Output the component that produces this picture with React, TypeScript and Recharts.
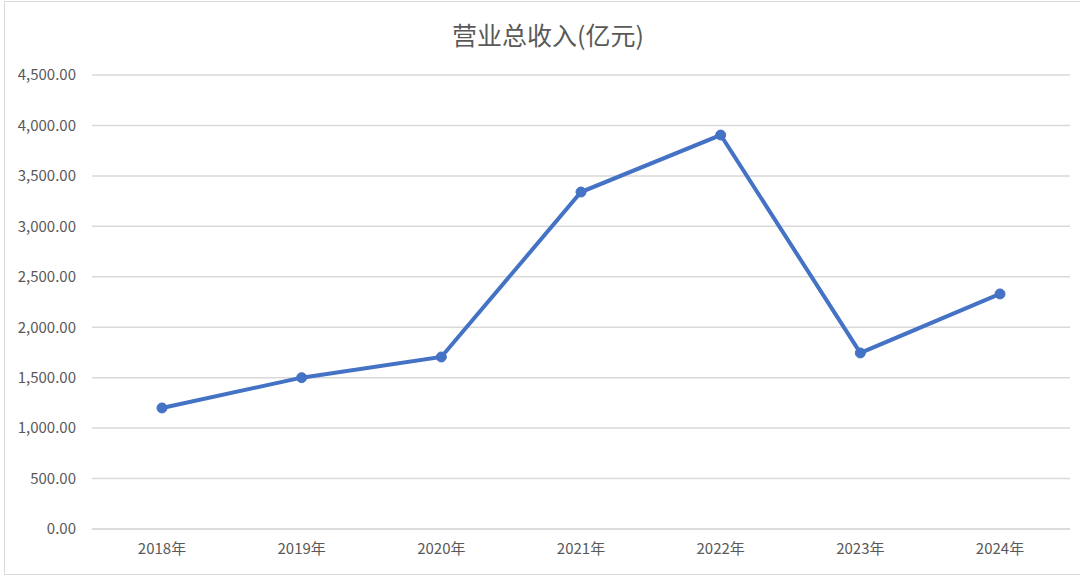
import React from "react";
import { LineChart, Line, XAxis, YAxis, CartesianGrid } from "recharts";

const categories = ["2018年", "2019年", "2020年", "2021年", "2022年", "2023年", "2024年"];
const revenue = [1200, 1500, 1705, 3340, 3905, 1745, 2330];
const yTicks = [0, 500, 1000, 1500, 2000, 2500, 3000, 3500, 4000, 4500];

const data = categories.map((c, i) => ({ year: c, value: revenue[i] }));

const fmt = (v: number) =>
  v.toLocaleString("en-US", { minimumFractionDigits: 2, maximumFractionDigits: 2 });

const FONT = '"Noto Sans CJK SC", "Noto Sans", sans-serif';

export default function App() {
  return (
    <div style={{ position: "absolute", left: 0, top: 0, width: 1080, height: 579, background: "#fff", fontFamily: FONT }}>
      <div style={{ position: "absolute", left: 4, top: 1, width: 1090, height: 574, border: "1px solid #d9d9d9", boxSizing: "border-box" }} />
      <div style={{ position: "absolute", left: 0, top: 16, width: 1096, textAlign: "center", fontSize: 25, color: "#595959", lineHeight: "36px" }}>
        营业总收入(亿元)
      </div>
      <LineChart width={1080} height={579} data={data} margin={{ top: 75, right: 10, bottom: 20, left: 0 }} style={{ position: "absolute", left: 0, top: 0 }}>
        <CartesianGrid vertical={false} stroke="#d9d9d9" strokeWidth={1.5} />
        <XAxis
          dataKey="year"
          tickLine={false}
          axisLine={{ stroke: "#d9d9d9", strokeWidth: 1.5 }}
          tick={{ fill: "#595959", fontSize: 15, fontFamily: FONT }}
          tickMargin={8}
          height={30}
          padding={{ left: 70, right: 70 }}
        />
        <YAxis
          domain={[0, 4500]}
          ticks={yTicks}
          tickFormatter={fmt}
          axisLine={false}
          tickLine={false}
          tick={{ fill: "#595959", fontSize: 15, fontFamily: FONT }}
          tickMargin={10}
          width={92}
        />
        <Line
          type="linear"
          dataKey="value"
          stroke="#4472C4"
          strokeWidth={4}
          dot={{ r: 5, fill: "#4472C4", stroke: "#4472C4", strokeWidth: 1 }}
          isAnimationActive={false}
        />
      </LineChart>
    </div>
  );
}
